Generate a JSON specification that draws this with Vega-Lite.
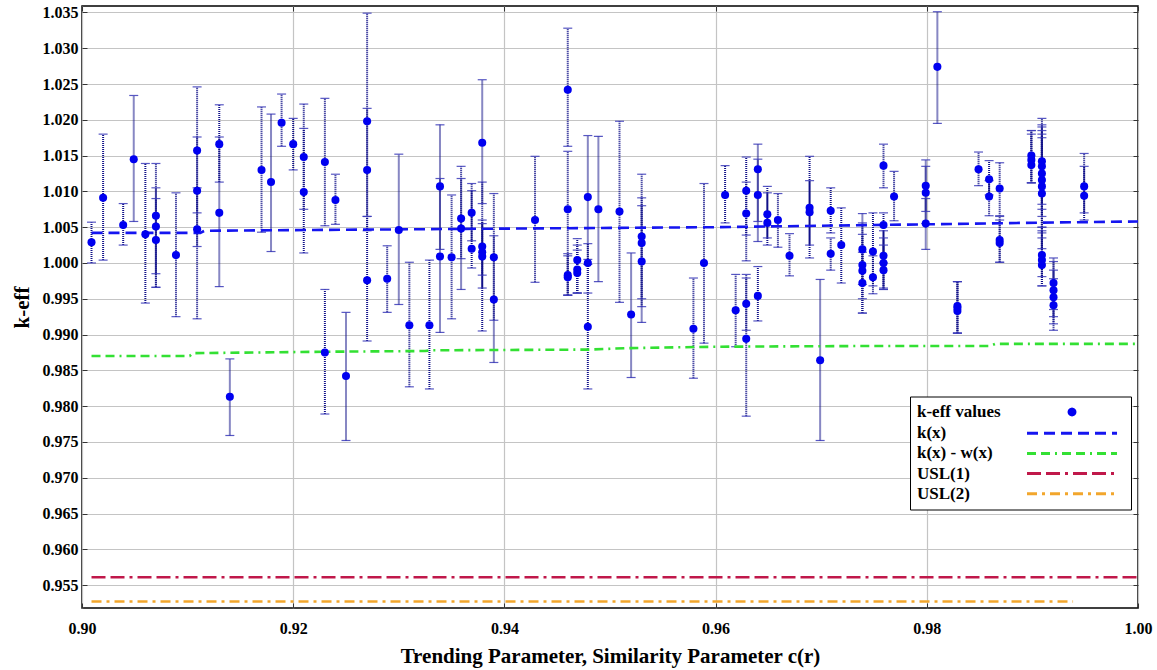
{
  "$schema": "https://vega.github.io/schema/vega-lite/v6.json",
  "width": 1056,
  "height": 602,
  "autosize": "none",
  "padding": {"left": 82, "top": 6, "right": 19, "bottom": 62},
  "background": "white",
  "resolve": {"axis": {"x": "independent", "y": "independent"}},
  "config": {
    "view": {"stroke": "black", "strokeWidth": 1.5},
    "font": "Liberation Serif",
    "axis": {
      "labelFont": "Liberation Serif", "titleFont": "Liberation Serif",
      "labelFontWeight": "bold", "titleFontWeight": "bold",
      "labelColor": "black", "titleColor": "black",
      "labelFontSize": 16, "titleFontSize": 21,
      "ticks": false, "domain": false,
      "gridColor": "#c4c4c4", "gridWidth": 1.2,
      "labelFlush": false, "labelOverlap": false, "tickCount": 30
    },
    "axisX": {"labelPadding": 12, "titlePadding": 9},
    "axisY": {"labelPadding": 4, "titlePadding": 10}
  },
  "datasets": {
    "pts": [
      {"x":0.9009,"k":1.0029,"lo":1.0000,"hi":1.0057},
      {"x":0.9020,"k":1.0091,"lo":1.0004,"hi":1.0180},
      {"x":0.9039,"k":1.0053,"lo":1.0025,"hi":1.0083},
      {"x":0.9049,"k":1.0145,"lo":1.0058,"hi":1.0234},
      {"x":0.9060,"k":1.0040,"lo":0.9944,"hi":1.0139},
      {"x":0.9070,"k":1.0066,"lo":0.9966,"hi":1.0139},
      {"x":0.9070,"k":1.0051,"lo":0.9985,"hi":1.0105},
      {"x":0.9070,"k":1.0032,"lo":0.9966,"hi":1.0090},
      {"x":0.9089,"k":1.0011,"lo":0.9925,"hi":1.0098},
      {"x":0.9109,"k":1.0157,"lo":1.0070,"hi":1.0246},
      {"x":0.9109,"k":1.0101,"lo":1.0023,"hi":1.0176},
      {"x":0.9109,"k":1.0047,"lo":0.9922,"hi":1.0105},
      {"x":0.9130,"k":1.0166,"lo":1.0113,"hi":1.0221},
      {"x":0.9130,"k":1.0070,"lo":0.9967,"hi":1.0176},
      {"x":0.9140,"k":0.9813,"lo":0.9759,"hi":0.9866},
      {"x":0.9170,"k":1.0130,"lo":1.0043,"hi":1.0218},
      {"x":0.9179,"k":1.0113,"lo":1.0016,"hi":1.0208},
      {"x":0.9189,"k":1.0196,"lo":1.0163,"hi":1.0236},
      {"x":0.9200,"k":1.0166,"lo":1.0130,"hi":1.0202},
      {"x":0.9210,"k":1.0148,"lo":1.0075,"hi":1.0222},
      {"x":0.9210,"k":1.0099,"lo":1.0014,"hi":1.0188},
      {"x":0.9230,"k":1.0141,"lo":1.0052,"hi":1.0230},
      {"x":0.9230,"k":0.9875,"lo":0.9789,"hi":0.9963},
      {"x":0.9240,"k":1.0088,"lo":1.0054,"hi":1.0124},
      {"x":0.9250,"k":0.9842,"lo":0.9752,"hi":0.9931},
      {"x":0.9270,"k":1.0198,"lo":1.0045,"hi":1.0349},
      {"x":0.9270,"k":1.0130,"lo":1.0065,"hi":1.0216},
      {"x":0.9270,"k":0.9976,"lo":0.9891,"hi":1.0065},
      {"x":0.9289,"k":0.9978,"lo":0.9931,"hi":1.0024},
      {"x":0.9300,"k":1.0046,"lo":0.9942,"hi":1.0152},
      {"x":0.9310,"k":0.9913,"lo":0.9827,"hi":1.0001},
      {"x":0.9329,"k":0.9913,"lo":0.9824,"hi":1.0004},
      {"x":0.9339,"k":1.0107,"lo":1.0019,"hi":1.0193},
      {"x":0.9339,"k":1.0009,"lo":0.9903,"hi":1.0118},
      {"x":0.9350,"k":1.0008,"lo":0.9922,"hi":1.0095},
      {"x":0.9359,"k":1.0062,"lo":1.0006,"hi":1.0135},
      {"x":0.9359,"k":1.0048,"lo":0.9963,"hi":1.0118},
      {"x":0.9369,"k":1.0070,"lo":1.0031,"hi":1.0111},
      {"x":0.9369,"k":1.0020,"lo":0.9993,"hi":1.0101},
      {"x":0.9379,"k":1.0168,"lo":1.0083,"hi":1.0256},
      {"x":0.9379,"k":1.0023,"lo":0.9983,"hi":1.0113},
      {"x":0.9379,"k":1.0015,"lo":0.9905,"hi":1.0060},
      {"x":0.9379,"k":1.0009,"lo":0.9965,"hi":1.0055},
      {"x":0.9390,"k":1.0008,"lo":0.9920,"hi":1.0097},
      {"x":0.9390,"k":0.9949,"lo":0.9861,"hi":1.0038},
      {"x":0.9429,"k":1.0060,"lo":0.9973,"hi":1.0149},
      {"x":0.9460,"k":1.0242,"lo":1.0163,"hi":1.0328},
      {"x":0.9460,"k":1.0075,"lo":0.9955,"hi":1.0156},
      {"x":0.9460,"k":0.9983,"lo":0.9955,"hi":1.0013},
      {"x":0.9460,"k":0.9980,"lo":0.9955,"hi":1.0010},
      {"x":0.9469,"k":1.0004,"lo":0.9958,"hi":1.0034},
      {"x":0.9469,"k":0.9991,"lo":0.9958,"hi":1.0025},
      {"x":0.9469,"k":0.9986,"lo":0.9958,"hi":1.0018},
      {"x":0.9479,"k":1.0092,"lo":1.0005,"hi":1.0178},
      {"x":0.9479,"k":1.0000,"lo":0.9958,"hi":1.0027},
      {"x":0.9479,"k":0.9911,"lo":0.9824,"hi":0.9998},
      {"x":0.9489,"k":1.0075,"lo":0.9974,"hi":1.0177},
      {"x":0.9509,"k":1.0072,"lo":0.9945,"hi":1.0198},
      {"x":0.9520,"k":0.9928,"lo":0.9840,"hi":1.0014},
      {"x":0.9530,"k":1.0037,"lo":0.9950,"hi":1.0124},
      {"x":0.9530,"k":1.0028,"lo":0.9939,"hi":1.0091},
      {"x":0.9530,"k":1.0002,"lo":0.9917,"hi":1.0080},
      {"x":0.9579,"k":0.9908,"lo":0.9839,"hi":0.9979},
      {"x":0.9589,"k":1.0000,"lo":0.9888,"hi":1.0111},
      {"x":0.9609,"k":1.0095,"lo":1.0056,"hi":1.0136},
      {"x":0.9619,"k":0.9934,"lo":0.9883,"hi":0.9984},
      {"x":0.9629,"k":1.0101,"lo":1.0039,"hi":1.0148},
      {"x":0.9629,"k":1.0069,"lo":1.0003,"hi":1.0113},
      {"x":0.9629,"k":0.9943,"lo":0.9906,"hi":0.9979},
      {"x":0.9629,"k":0.9894,"lo":0.9786,"hi":0.9984},
      {"x":0.9640,"k":1.0131,"lo":1.0058,"hi":1.0166},
      {"x":0.9640,"k":1.0095,"lo":1.0030,"hi":1.0145},
      {"x":0.9640,"k":0.9954,"lo":0.9919,"hi":0.9995},
      {"x":0.9649,"k":1.0068,"lo":1.0025,"hi":1.0107},
      {"x":0.9649,"k":1.0056,"lo":1.0035,"hi":1.0098},
      {"x":0.9659,"k":1.0060,"lo":1.0022,"hi":1.0097},
      {"x":0.9670,"k":1.0010,"lo":0.9982,"hi":1.0041},
      {"x":0.9689,"k":1.0077,"lo":1.0007,"hi":1.0149},
      {"x":0.9689,"k":1.0071,"lo":1.0025,"hi":1.0115},
      {"x":0.9699,"k":0.9864,"lo":0.9752,"hi":0.9977},
      {"x":0.9709,"k":1.0073,"lo":1.0042,"hi":1.0105},
      {"x":0.9709,"k":1.0013,"lo":0.9990,"hi":1.0035},
      {"x":0.9719,"k":1.0025,"lo":0.9972,"hi":1.0077},
      {"x":0.9739,"k":1.0019,"lo":0.9970,"hi":1.0069},
      {"x":0.9739,"k":0.9997,"lo":0.9950,"hi":1.0056},
      {"x":0.9739,"k":0.9989,"lo":0.9930,"hi":1.0040},
      {"x":0.9739,"k":0.9972,"lo":0.9930,"hi":1.0015},
      {"x":0.9749,"k":1.0016,"lo":0.9968,"hi":1.0070},
      {"x":0.9749,"k":0.9980,"lo":0.9957,"hi":1.0010},
      {"x":0.9759,"k":1.0136,"lo":1.0105,"hi":1.0166},
      {"x":0.9759,"k":1.0053,"lo":1.0000,"hi":1.0070},
      {"x":0.9759,"k":1.0010,"lo":0.9965,"hi":1.0045},
      {"x":0.9759,"k":1.0000,"lo":0.9963,"hi":1.0035},
      {"x":0.9759,"k":0.9990,"lo":0.9963,"hi":1.0025},
      {"x":0.9769,"k":1.0093,"lo":1.0059,"hi":1.0128},
      {"x":0.9799,"k":1.0108,"lo":1.0072,"hi":1.0144},
      {"x":0.9799,"k":1.0098,"lo":1.0055,"hi":1.0135},
      {"x":0.9799,"k":1.0055,"lo":1.0019,"hi":1.0090},
      {"x":0.9810,"k":1.0274,"lo":1.0195,"hi":1.0351},
      {"x":0.9829,"k":0.9940,"lo":0.9902,"hi":0.9974},
      {"x":0.9829,"k":0.9937,"lo":0.9902,"hi":0.9974},
      {"x":0.9829,"k":0.9933,"lo":0.9902,"hi":0.9974},
      {"x":0.9849,"k":1.0131,"lo":1.0108,"hi":1.0155},
      {"x":0.9859,"k":1.0117,"lo":1.0095,"hi":1.0143},
      {"x":0.9859,"k":1.0093,"lo":1.0066,"hi":1.0115},
      {"x":0.9869,"k":1.0104,"lo":1.0066,"hi":1.0140},
      {"x":0.9869,"k":1.0032,"lo":1.0001,"hi":1.0065},
      {"x":0.9869,"k":1.0028,"lo":1.0001,"hi":1.0060},
      {"x":0.9899,"k":1.0150,"lo":1.0112,"hi":1.0185},
      {"x":0.9899,"k":1.0144,"lo":1.0112,"hi":1.0185},
      {"x":0.9899,"k":1.0137,"lo":1.0112,"hi":1.0180},
      {"x":0.9909,"k":1.0142,"lo":1.0082,"hi":1.0202},
      {"x":0.9909,"k":1.0135,"lo":1.0075,"hi":1.0193},
      {"x":0.9909,"k":1.0125,"lo":1.0065,"hi":1.0190},
      {"x":0.9909,"k":1.0116,"lo":1.0050,"hi":1.0185},
      {"x":0.9909,"k":1.0107,"lo":1.0042,"hi":1.0180},
      {"x":0.9909,"k":1.0097,"lo":1.0020,"hi":1.0175},
      {"x":0.9909,"k":1.0011,"lo":0.9981,"hi":1.0050},
      {"x":0.9909,"k":1.0004,"lo":0.9968,"hi":1.0045},
      {"x":0.9909,"k":0.9997,"lo":0.9968,"hi":1.0035},
      {"x":0.9920,"k":0.9972,"lo":0.9935,"hi":1.0007},
      {"x":0.9920,"k":0.9962,"lo":0.9925,"hi":1.0002},
      {"x":0.9920,"k":0.9952,"lo":0.9915,"hi":0.9990},
      {"x":0.9920,"k":0.9941,"lo":0.9906,"hi":0.9978},
      {"x":0.9949,"k":1.0107,"lo":1.0070,"hi":1.0153},
      {"x":0.9949,"k":1.0094,"lo":1.0060,"hi":1.0135}
    ],
    "lines": [
      {"series":"k(x)","x":0.9009,"k":1.0042},
      {"series":"k(x)","x":0.9112,"k":1.0042},
      {"series":"k(x)","x":0.9116,"k":1.0045},
      {"series":"k(x)","x":0.9400,"k":1.0048},
      {"series":"k(x)","x":0.9600,"k":1.0050},
      {"series":"k(x)","x":0.9697,"k":1.0052},
      {"series":"k(x)","x":0.9800,"k":1.0054},
      {"series":"k(x)","x":0.9890,"k":1.0056},
      {"series":"k(x)","x":1.0000,"k":1.0058},
      {"series":"k(x) - w(x)","x":0.9009,"k":0.9870},
      {"series":"k(x) - w(x)","x":0.9102,"k":0.9870},
      {"series":"k(x) - w(x)","x":0.9105,"k":0.9874},
      {"series":"k(x) - w(x)","x":0.9230,"k":0.9876},
      {"series":"k(x) - w(x)","x":0.9325,"k":0.9877},
      {"series":"k(x) - w(x)","x":0.9330,"k":0.9878},
      {"series":"k(x) - w(x)","x":0.9480,"k":0.9879},
      {"series":"k(x) - w(x)","x":0.9515,"k":0.9881},
      {"series":"k(x) - w(x)","x":0.9600,"k":0.9883},
      {"series":"k(x) - w(x)","x":0.9740,"k":0.9884},
      {"series":"k(x) - w(x)","x":0.9860,"k":0.9884},
      {"series":"k(x) - w(x)","x":0.9865,"k":0.9887},
      {"series":"k(x) - w(x)","x":1.0000,"k":0.9887},
      {"series":"USL(1)","x":0.9009,"k":0.9561},
      {"series":"USL(1)","x":1.0000,"k":0.9561},
      {"series":"USL(2)","x":0.9009,"k":0.9527},
      {"series":"USL(2)","x":0.99385,"k":0.9527}
    ]
  },
  "layer": [
    {
      "data": {"name": "pts"},
      "mark": {"type": "rule", "color": "#101088", "strokeDash": [1, 1], "strokeWidth": 2},
      "encoding": {
        "x": {"field": "x", "type": "quantitative", "title": "Trending Parameter, Similarity Parameter c(r)",
              "scale": {"domain": [0.9, 1.0], "nice": false, "zero": false},
              "axis": {"values": [0.9, 0.92, 0.94, 0.96, 0.98, 1.0], "format": ".2f",
                       "ticks": true, "tickSize": -5, "tickColor": "#333333", "tickWidth": 1, "labelPadding": 17}},
        "y": {"field": "lo", "type": "quantitative", "title": "k-eff",
              "scale": {"domain": [0.9518, 1.0359], "nice": false, "zero": false},
              "axis": {"values": [0.955, 0.96, 0.965, 0.97, 0.975, 0.98, 0.985, 0.99, 0.995, 1.0, 1.005, 1.01, 1.015, 1.02, 1.025, 1.03, 1.035], "format": ".3f", "tickCount": 30,
                       "ticks": true, "tickSize": -5, "tickColor": "#333333", "tickWidth": 1, "labelPadding": 9}},
        "y2": {"field": "hi"}
      }
    },
    {
      "data": {"name": "pts"},
      "mark": {"type": "tick", "orient": "horizontal", "size": 9, "thickness": 1.2, "color": "#3a3ab8", "opacity": 0.85},
      "encoding": {
        "x": {"field": "x", "type": "quantitative", "axis": null},
        "y": {"field": "lo", "type": "quantitative", "axis": null}
      }
    },
    {
      "data": {"name": "pts"},
      "mark": {"type": "tick", "orient": "horizontal", "size": 9, "thickness": 1.2, "color": "#3a3ab8", "opacity": 0.85},
      "encoding": {
        "x": {"field": "x", "type": "quantitative", "axis": null},
        "y": {"field": "hi", "type": "quantitative", "axis": null}
      }
    },
    {
      "data": {"name": "lines"},
      "mark": {"type": "line", "strokeWidth": 2.6},
      "encoding": {
        "x": {"field": "x", "type": "quantitative", "axis": null},
        "y": {"field": "k", "type": "quantitative", "axis": null},
        "color": {
          "field": "series", "type": "nominal",
          "scale": {"domain": ["k-eff values", "k(x)", "k(x) - w(x)", "USL(1)", "USL(2)"],
                    "range": ["#0000f0", "#1515f0", "#33e033", "#c0184a", "#f2a62c"]},
          "legend": {
            "orient": "none", "legendX": 828, "legendY": 390.5, "title": null,
            "padding": 7, "strokeColor": "black", "fillColor": "white", "cornerRadius": 0,
            "labelFont": "Liberation Serif", "labelFontWeight": "bold", "labelFontSize": 17, "labelColor": "black",
            "labelLimit": 300,
            "symbolType": "stroke", "symbolSize": 196, "symbolStrokeWidth": 3,
            "rowPadding": 2.2, "labelOffset": -17, "symbolOffset": 0,
            "encode": {
              "symbols": {
                "update": {
                  "shape": {"signal": "datum.value === 'k-eff values' ? 'M20.51,0A0.42,0.42 0 1,1 21.35,0A0.42,0.42 0 1,1 20.51,0Z' : 'M14.5,0H27.36'"},
                  "fill": {"signal": "datum.value === 'k-eff values' ? '#0000f0' : 'transparent'"},
                  "stroke": {"signal": "datum.value === 'k-eff values' ? 'transparent' : datum.value === 'k(x)' ? '#1515f0' : datum.value === 'k(x) - w(x)' ? '#33e033' : datum.value === 'USL(1)' ? '#c0184a' : '#f2a62c'"},
                  "strokeDash": {"signal": "datum.value === 'k(x)' ? [11, 6] : datum.value === 'k(x) - w(x)' ? [9, 5, 9, 5, 2, 5] : datum.value === 'USL(1)' ? [14, 5, 14, 5, 3, 5] : datum.value === 'USL(2)' ? [10, 5, 3, 5] : [1, 0]"},
                  "strokeWidth": {"value": 3},
                  "opacity": {"value": 1}
                }
              }
            }
          }
        },
        "strokeDash": {
          "field": "series", "type": "nominal", "legend": null,
          "scale": {"domain": ["k-eff values", "k(x)", "k(x) - w(x)", "USL(1)", "USL(2)"],
                    "range": [[1, 0], [11, 6], [9, 5, 9, 5, 2, 5], [14, 5, 14, 5, 3, 5], [10, 5, 3, 5]]}
        }
      }
    },
    {
      "data": {"name": "pts"},
      "mark": {"type": "point", "filled": true, "size": 65, "color": "#0000f0", "opacity": 1},
      "encoding": {
        "x": {"field": "x", "type": "quantitative",
              "axis": {"orient": "top", "title": null, "labels": false, "grid": false, "domain": false,
                       "ticks": true, "tickSize": -5, "tickColor": "#333333", "tickWidth": 1,
                       "values": [0.9, 0.92, 0.94, 0.96, 0.98, 1.0]}},
        "y": {"field": "k", "type": "quantitative",
              "axis": {"orient": "right", "title": null, "labels": false, "grid": false, "domain": false,
                       "ticks": true, "tickSize": -5, "tickColor": "#333333", "tickWidth": 1, "tickCount": 30,
                       "values": [0.955, 0.96, 0.965, 0.97, 0.975, 0.98, 0.985, 0.99, 0.995, 1.0, 1.005, 1.01, 1.015, 1.02, 1.025, 1.03, 1.035]}}
      }
    }
  ]
}
